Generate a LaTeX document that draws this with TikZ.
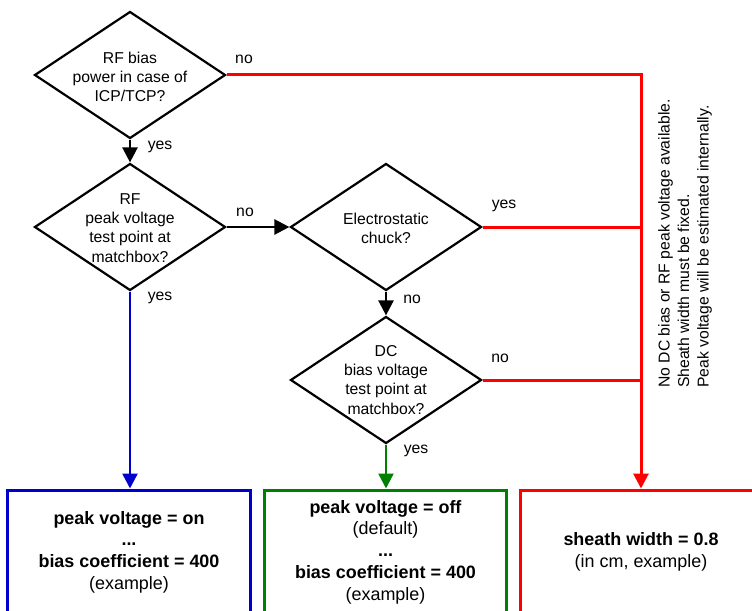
\documentclass[tikz,border=0pt]{standalone}
\usepackage{fontspec}
\setmainfont{Liberation Sans}
\usetikzlibrary{shapes.geometric,arrows.meta,calc}
\definecolor{outblue}{RGB}{0,0,205}
\definecolor{outgreen}{RGB}{0,128,0}
\definecolor{outred}{RGB}{255,0,0}
\tikzset{
decision/.style={shape=diamond,draw=black,line width=2.2bp,minimum width=191bp,minimum height=127bp,inner sep=0pt},
qtext/.style={align=center,inner sep=0pt,font=\fontsize{15.8}{19.2}\selectfont},
answer/.style={inner sep=0pt,font=\fontsize{15.8}{19}\selectfont},
result/.style={draw,line width=3bp,minimum width=242bp,minimum height=124bp,inner sep=0pt,align=center,font=\fontsize{18}{21.8}\selectfont},
flowarrow/.style={-{Triangle[length=15bp,width=15bp]},line width=2.5bp},
redline/.style={outred,line width=3bp},
note/.style={rotate=90,align=left,inner sep=0pt,font=\fontsize{15.8}{19.6}\selectfont}
}

\begin{document}
\begin{tikzpicture}[x=1bp,y=-1bp]
\useasboundingbox (0,0) rectangle (752,611);
% questions
\node[decision] (q1) at (130,75) {};
\node[qtext] (q1t) at (130,77) {RF bias\\power in case of\\ICP/TCP?};
\node[decision] (q2) at (130,227) {};
\node[qtext] (q2t) at (130,228) {RF\\peak voltage\\test point at\\matchbox?};
\node[decision] (q3) at (386,227) {};
\node[qtext] (q3t) at (386,228) {Electrostatic\\chuck?};
\node[decision] (q4) at (386,380) {};
\node[qtext] (q4t) at (386,380) {DC\\bias voltage\\test point at\\matchbox?};
% results
\node[result,draw=outblue] (rfpeak) at (129,552) {\textbf{peak voltage = on}\\\textbf{...}\\\textbf{bias coefficient = 400}\\(example)};
\node[result,draw=outgreen] (dcbias) at (385.5,552) {\textbf{peak voltage = off}\\(default)\\\textbf{...}\\\textbf{bias coefficient = 400}\\(example)};
\node[result,draw=outred] (fixed) at (641,552) {\textbf{sheath width = 0.8}\\(in cm, example)};
% black arrows
\draw[flowarrow] (q1.south) -- (q2.north);
\draw[flowarrow] (q2.east) -- (q3.west);
\draw[flowarrow] (q3.south) -- (q4.north);
% coloured branches
\draw[flowarrow,outblue] (q2.south) -- (q2.south |- rfpeak.north);
\draw[flowarrow,outgreen] (q4.south) -- (q4.south |- dcbias.north);
\draw[flowarrow,redline] (q1.east) -| (fixed.north);
\draw[redline] (q3.east) -- (q3.east -| fixed.north);
\draw[redline] (q4.east) -- (q4.east -| fixed.north);
% answers
\node[answer] (a1) at (244,59) {no};
\node[answer] (a2) at (160,147) {yes};
\node[answer] (a3) at (245,212) {no};
\node[answer] (a4) at (160,298) {yes};
\node[answer] (a5) at (504,206) {yes};
\node[answer] (a6) at (412,299) {no};
\node[answer] (a7) at (500,358) {no};
\node[answer] (a8) at (416,451) {yes};
% side note
\node[note,anchor=west] (why) at (685,388) {No DC bias or RF peak voltage available.\\Sheath width must be fixed.\\Peak voltage will be estimated internally.};
\end{tikzpicture}
\end{document}
